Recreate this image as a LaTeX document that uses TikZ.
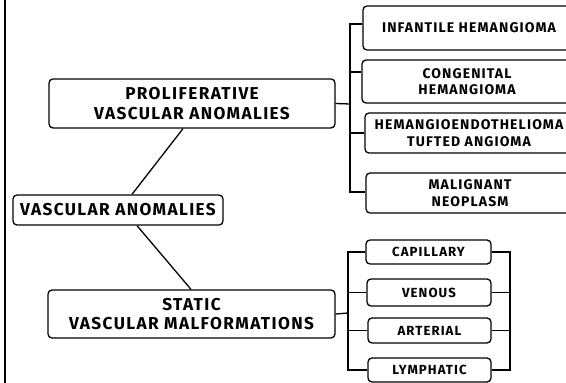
\documentclass[tikz,border=0pt]{standalone}
\usepackage{fontspec}
\setmainfont[LetterSpace=8]{Fira Sans}
\usetikzlibrary{calc}
\tikzset{
	box/.style={draw, line width=1.3pt, rounded corners=4pt, align=center, inner sep=0pt},
	bigtext/.style={font=\bfseries\fontsize{17.2}{19.5}\selectfont},
	midtext/.style={font=\bfseries\fontsize{14}{16.5}\selectfont},
	smalltext/.style={font=\bfseries\fontsize{13.2}{14}\selectfont},
	link/.style={line width=1.3pt}
}

\begin{document}
\begin{tikzpicture}[x=1pt, y=-1pt]
			%%%%% START %%%%%
			\useasboundingbox (0, 0) rectangle (566, 383);
			\clip (0, 0) rectangle (566, 383);
			
			\draw[line width=2pt] (5, -2) -- (5, 385);
			
			\node[box, bigtext, minimum width=210, minimum height=30] (root) at (118, 210) {VASCULAR ANOMALIES};
			\node[box, bigtext, minimum width=286, minimum height=49] (prol) at (192, 103.5) {PROLIFERATIVE\\VASCULAR ANOMALIES};
			\node[box, bigtext, minimum width=287, minimum height=48] (stat) at (191.5, 314) {STATIC\\VASCULAR MALFORMATIONS};
			
			\draw[link] (prol.south -| 183, 0) -- (root.north -| 132, 0);
			\draw[link] (root.south -| 137, 0) -- (stat.north -| 191, 0);
			
			%% proliferative
			\node[box, midtext, minimum width=212, minimum height=44] (inf) at (469, 28) {INFANTILE HEMANGIOMA};
			\node[box, midtext, minimum width=210, minimum height=43] (cong) at (467, 81.5) {CONGENITAL\\HEMANGIOMA};
			\node[box, midtext, minimum width=208, minimum height=40] (hem) at (469, 133) {HEMANGIOENDOTHELIOMA\\TUFTED ANGIOMA};
			\node[box, midtext, minimum width=208, minimum height=40] (mal) at (470, 193) {MALIGNANT\\NEOPLASM};
			
			\coordinate (pspine) at (350, 104);
			\draw[link] (prol.east) -- (pspine);
			\draw[link] (inf.west |- 0, 24) -| (pspine) |- (mal.west |- 0, 192);
			\draw[link] (cong.west |- 0, 72) -- (pspine |- 0, 72);
			\draw[link] (hem.west) -- (pspine |- hem.west);
			
			%% static
			\node[box, smalltext, minimum width=125, minimum height=24] (cap) at (428.5, 252) {CAPILLARY};
			\node[box, smalltext, minimum width=124, minimum height=27] (ven) at (429, 292.5) {VENOUS};
			\node[box, smalltext, minimum width=123, minimum height=25] (art) at (429.5, 330.5) {ARTERIAL};
			\node[box, smalltext, minimum width=123, minimum height=24] (lym) at (429.5, 370) {LYMPHATIC};
			
			\coordinate (sspine) at (348, 313);
			\coordinate (rspine) at (510, 313);
			\draw[link] (stat.east) -- (sspine);
			\draw[link] (cap.west) -| (sspine) |- (lym.west);
			\draw[link] (ven.west) -- (sspine |- ven.west);
			\draw[link] (art.west) -- (sspine |- art.west);
			\draw[link] (cap.east) -| (rspine) |- (lym.east);
			\draw[link] (ven.east) -- (rspine |- ven.east);
			\draw[link] (art.east) -- (rspine |- art.east);
			
			%%%%% END %%%%%
\end{tikzpicture}
\end{document}
